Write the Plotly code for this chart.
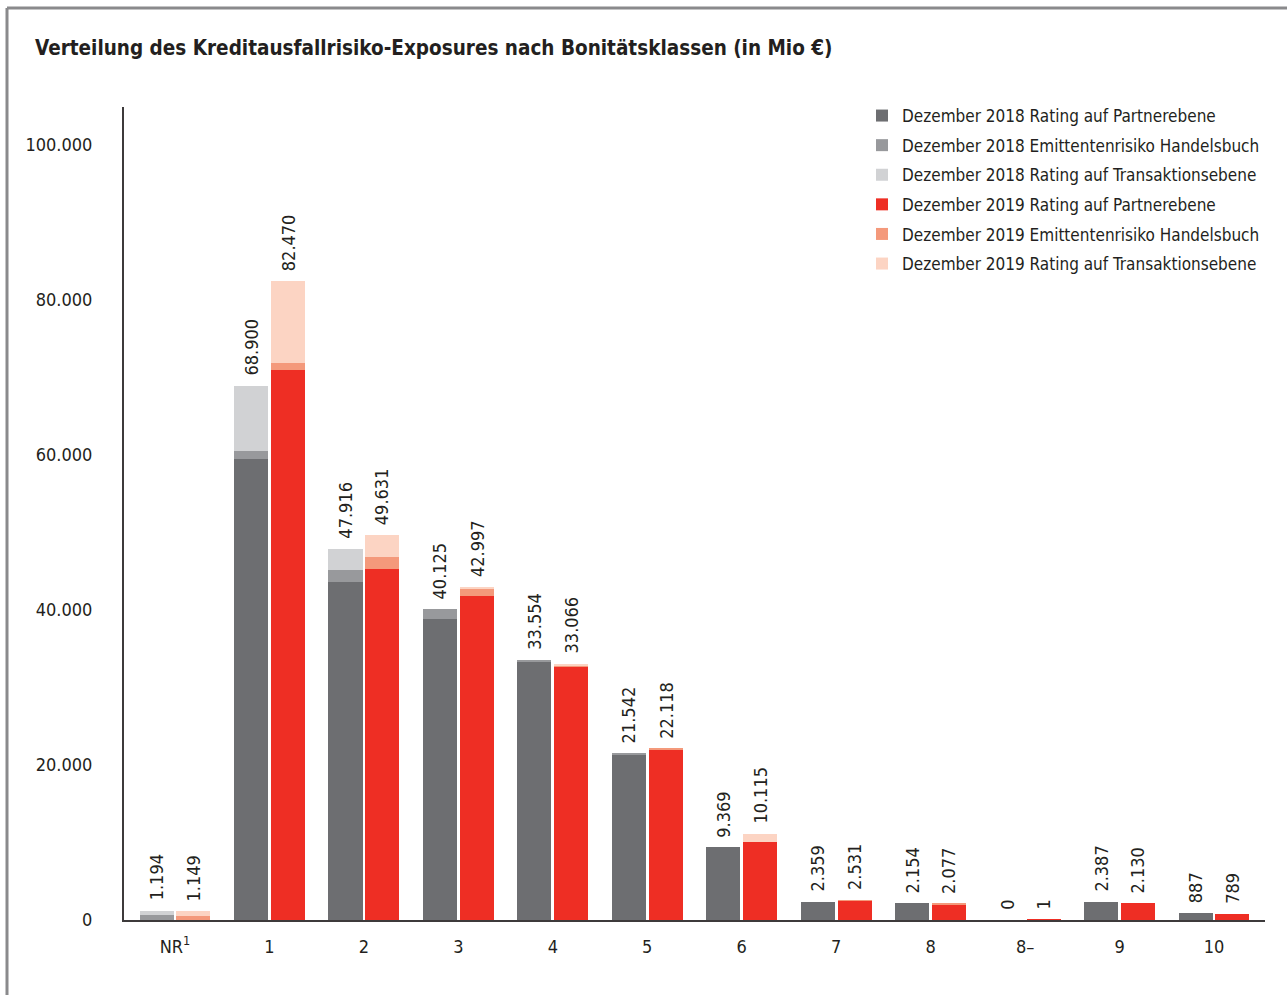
import plotly.graph_objects as go

categories = ["NR<sup>1</sup>", "1", "2", "3", "4", "5", "6", "7", "8", "8–", "9", "10"]

# Dezember 2018 (Mio €)
p18 = [0, 59500, 43600, 38900, 33350, 21400, 9369, 2359, 2154, 0, 2387, 887]
e18 = [600, 1000, 1500, 1225, 204, 142, 0, 0, 0, 0, 0, 0]
t18 = [594, 8400, 2816, 0, 0, 0, 0, 0, 0, 0, 0, 0]
# Dezember 2019 (Mio €)
p19 = [0, 71000, 45300, 41800, 32750, 22000, 10100, 2480, 2030, 1, 2130, 789]
e19 = [550, 900, 1500, 900, 50, 118, 0, 51, 47, 0, 0, 0]
t19 = [599, 10570, 2831, 297, 266, 0, 1000, 0, 0, 0, 0, 0]

labels18 = ["1.194", "68.900", "47.916", "40.125", "33.554", "21.542", "9.369", "2.359", "2.154", "0", "2.387", "887"]
labels19 = ["1.149", "82.470", "49.631", "42.997", "33.066", "22.118", "10.115", "2.531", "2.077", "1", "2.130", "789"]

series_names = [
    "Dezember 2018 Rating auf Partnerebene",
    "Dezember 2018 Emittentenrisiko Handelsbuch",
    "Dezember 2018 Rating auf Transaktionsebene",
    "Dezember 2019 Rating auf Partnerebene",
    "Dezember 2019 Emittentenrisiko Handelsbuch",
    "Dezember 2019 Rating auf Transaktionsebene",
]
colors = ["#6d6e71", "#98999c", "#d1d2d4", "#ee2e24", "#f4997b", "#fcd4c3"]

FONT = "DejaVu Sans Condensed, Liberation Sans Narrow, sans-serif"
TXT = "#231f20"
OFF = 0.195
W = 0.36

idx = list(range(len(categories)))
x18 = [i - OFF for i in idx]
x19 = [i + OFF for i in idx]

fig = go.Figure()
series = [(x18, p18), (x18, e18), (x18, t18), (x19, p19), (x19, e19), (x19, t19)]
for k, ((xs, vals), name, col) in enumerate(zip(series, series_names, colors)):
    fig.add_trace(go.Bar(
        x=xs, y=vals, width=W, name=name, legendgroup=f"g{k}",
        marker=dict(color=col, line=dict(width=0)),
        hoverinfo="name+y",
    ))

tot18 = [a + b + c for a, b, c in zip(p18, e18, t18)]
tot19 = [a + b + c for a, b, c in zip(p19, e19, t19)]
annotations = []
for xs, tots, labs in [(x18, tot18, labels18), (x19, tot19, labels19)]:
    for xv, yv, lab in zip(xs, tots, labs):
        annotations.append(dict(
            x=xv, y=yv, text=lab, showarrow=False, textangle=-90,
            xanchor="center", yanchor="bottom", yshift=8,
            font=dict(family=FONT, size=18, color=TXT),
        ))

# plot area in pixels: x 124..1265, y 107..920
L, R, T, B = 124, 22, 107, 75
PW, PH = 1287 - L - R, 995 - T - B
def px(xp):
    return (xp - L) / PW
def py(yp):
    return (995 - B - yp) / PH

frame = dict(color="#8a8a8c", width=3)
shapes = [
    dict(type="line", xref="paper", yref="paper", x0=px(7), x1=px(7), y0=py(8), y1=py(995), line=frame),
    dict(type="line", xref="paper", yref="paper", x0=px(7), x1=px(1287), y0=py(8), y1=py(8), line=frame),
]

fig.update_layout(
    width=1287, height=995,
    margin=dict(l=L, r=R, t=T, b=B, autoexpand=False),
    paper_bgcolor="white", plot_bgcolor="white",
    barmode="stack",
    separators=",.",
    font=dict(family=FONT, size=18, color=TXT),
    title=dict(
        text="<b>Verteilung des Kreditausfallrisiko-Exposures nach Bonitätsklassen (in Mio €)</b>",
        xref="container", yref="container", x=35 / 1287, y=1 - 48 / 995,
        xanchor="left", yanchor="middle",
        font=dict(family=FONT, size=20.5, color=TXT),
    ),
    legend=dict(
        x=1.0, y=py(98), xanchor="right", yanchor="top",
        font=dict(family=FONT, size=17, color=TXT),
        bgcolor="rgba(0,0,0,0)", traceorder="grouped",
        tracegroupgap=4.5, itemwidth=30,
    ),
    xaxis=dict(
        range=[-0.54, 11.54], tickvals=idx, ticktext=categories,
        showgrid=False, zeroline=False, showline=True, linecolor="#3d3a3b", linewidth=2,
        ticks="", ticklabelstandoff=9,
        tickfont=dict(family=FONT, size=18, color=TXT),
        fixedrange=True,
    ),
    yaxis=dict(
        range=[0, 104900], tickvals=[0, 20000, 40000, 60000, 80000, 100000],
        tickformat=",.0f",
        showgrid=False, zeroline=False, showline=True, linecolor="#3d3a3b", linewidth=2,
        ticks="", ticklabelstandoff=26,
        tickfont=dict(family=FONT, size=18, color=TXT),
        fixedrange=True,
    ),
    annotations=annotations,
    shapes=shapes,
    bargap=0,
)

fig.write_html("out.html")
